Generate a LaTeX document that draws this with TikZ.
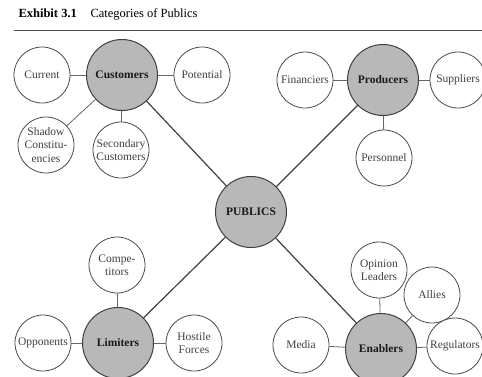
\documentclass[tikz,border=0pt]{standalone}
\usepackage{fontspec}
\setmainfont{Liberation Serif}
\begin{document}
\begin{tikzpicture}[x=1pt,y=-1pt,
  hub/.style={circle,draw=black!75,line width=1pt,fill=black!28,minimum size=71pt,inner sep=0pt,font=\fontsize{11.5}{13.3}\selectfont\bfseries,text=black!90},
  sub/.style={circle,draw=black!70,line width=0.8pt,fill=white,minimum size=56pt,inner sep=0pt,align=center,font=\fontsize{11.5}{13.3}\selectfont,text=black!75},
  major/.style={draw=black!75,line width=1.2pt},
  minor/.style={draw=black!60,line width=0.8pt}]
\useasboundingbox (0,0) rectangle (482,376);
\node[anchor=base west,font=\fontsize{12.5}{14}\selectfont\bfseries] (t1) at (15,17) {Exhibit 3.1};
\node[anchor=base west,font=\fontsize{12.5}{14}\selectfont] (t2) at (87,17) {Categories of Publics};
\coordinate (r1) at (14,30.5);
\coordinate (r2) at (482,30.5);
\draw[black!70,line width=1.2pt] (r1) -- (r2);
% hubs
\node[hub] (pub) at (251,212) {PUBLICS};
\node[hub] (cus) at (122,75) {Customers};
\node[hub] (pro) at (383,80) {Producers};
\node[hub] (lim) at (118,343) {Limiters};
\node[hub] (ena) at (381,349) {Enablers};
% subs
\node[sub] (cur) at (42,75) {Current};
\node[sub] (pot) at (202,75) {Potential};
\node[sub] (sha) at (46,145) {Shadow\\Constitu-\\encies};
\node[sub] (sec) at (121,150) {Secondary\\Customers};
\node[sub] (fin) at (305,80) {Financiers};
\node[sub] (sup) at (458,80) {Suppliers};
\node[sub] (per) at (384,158) {Personnel};
\node[sub] (com) at (117,265) {Compe-\\titors};
\node[sub] (opp) at (43,343) {Opponents};
\node[sub] (hos) at (194,343) {Hostile\\Forces};
\node[sub] (med) at (301,345) {Media};
\node[sub] (opi) at (379,270) {Opinion\\Leaders};
\node[sub] (all) at (432,295) {Allies};
\node[sub] (reg) at (455,346) {Regulators};
% connectors
\draw[major] (pub) -- (cus);
\draw[major] (pub) -- (pro);
\draw[major] (pub) -- (lim);
\draw[major] (pub) -- (ena);
\draw[minor] (cus) -- (cur);
\draw[minor] (cus) -- (pot);
\draw[minor] (cus) -- (sha);
\draw[minor] (cus) -- (sec);
\draw[minor] (pro) -- (fin);
\draw[minor] (pro) -- (sup);
\draw[minor] (pro) -- (per);
\draw[minor] (lim) -- (com);
\draw[minor] (lim) -- (opp);
\draw[minor] (lim) -- (hos);
\draw[minor] (ena) -- (med);
\draw[minor] (ena) -- (opi);
\draw[minor] (ena) -- (all);
\draw[minor] (ena) -- (reg);
\end{tikzpicture}
\end{document}
